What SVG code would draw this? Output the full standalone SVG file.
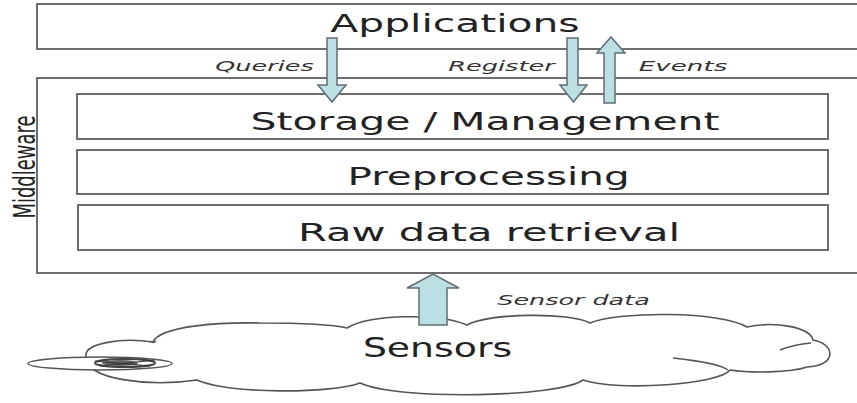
<svg xmlns="http://www.w3.org/2000/svg" width="857" height="403" viewBox="0 0 857 403">
<style>
.box{fill:#fff;stroke:#6e6e6e;stroke-width:2}
.big{font-family:"DejaVu Sans","Liberation Sans",sans-serif;font-size:24px;fill:#222;text-anchor:middle}
.lbl{font-family:"DejaVu Sans","Liberation Sans",sans-serif;font-size:14.5px;font-style:italic;fill:#333;text-anchor:middle}
.arr{fill:#bcdfe4;stroke:#5f6f72;stroke-width:1.5;stroke-linejoin:miter}
.cloud{fill:#fff;stroke:#555;stroke-width:1.6;stroke-linejoin:round}
</style>
<rect width="857" height="403" fill="#fff"/>
<g id="applications">
<rect class="box" x="37" y="4" width="830" height="45"/>
<text class="big" transform="translate(455,32) scale(1.64,1)" textLength="152" lengthAdjust="spacingAndGlyphs">Applications</text>
</g>
<g id="middleware">
<rect class="box" x="37" y="78" width="830" height="195"/>
<text class="big" transform="translate(35,167) scale(1.64,1) rotate(-90)" style="font-size:18px" textLength="103" lengthAdjust="spacingAndGlyphs">Middleware</text>
</g>
<g id="storage">
<rect class="box" x="77" y="94" width="751" height="45"/>
<text class="big" transform="translate(485,130) scale(1.64,1)" textLength="286" lengthAdjust="spacingAndGlyphs">Storage / Management</text>
</g>
<g id="preprocessing">
<rect class="box" x="77" y="150" width="751" height="44"/>
<text class="big" transform="translate(488.5,185) scale(1.64,1)" textLength="172" lengthAdjust="spacingAndGlyphs">Preprocessing</text>
</g>
<g id="raw">
<rect class="box" x="78" y="205" width="750" height="45"/>
<text class="big" transform="translate(489,241) scale(1.64,1)" textLength="233" lengthAdjust="spacingAndGlyphs">Raw data retrieval</text>
</g>
<g id="sensors">
<path class="cloud" d="M86,356 C84,344 120,337 153,342 C160,326 220,322 260,323 C300,323 330,324 347,328 C370,314 440,313 467,325 C490,313 570,312 590,323 C620,311 720,311 747,327 C775,321 810,327 813,340 C836,344 837,366 807,367 C790,373 750,373 730,370 C720,384 620,392 583,380 C560,397 400,401 360,383 C330,394 230,394 197,380 C150,387 84,380 86,356 Z"/>
<path fill="none" stroke="#555" stroke-width="1.5" d="M780,350 C790,346 800,344 811,343"/>
<path fill="none" stroke="#555" stroke-width="1.5" d="M673,358 C700,361 720,364 728,370"/>
<path fill="none" stroke="#555" stroke-width="1.5" d="M150,341 C152,343 154,343 156,341"/>
<ellipse cx="100" cy="363.5" rx="72" ry="6.5" fill="#fff" stroke="#555" stroke-width="1.5"/>
<ellipse cx="125" cy="363" rx="30" ry="4" fill="none" stroke="#444" stroke-width="2"/>
<ellipse cx="120" cy="363" rx="18" ry="3" fill="#666"/>
<path fill="none" stroke="#333" stroke-width="1.2" d="M95,361 L150,366 M100,366 L155,360"/>
<text class="big" transform="translate(437.5,357) scale(1.64,1)" style="font-size:27px" textLength="91" lengthAdjust="spacingAndGlyphs">Sensors</text>
</g>
<g id="connectors">
<path class="arr" d="M327,38 H337 V85 H346 L332,102 L318,85 H327 Z"/>
<path class="arr" d="M567,38 H578 V85 H587 L573.5,102 L560,85 H567 Z"/>
<path class="arr" d="M604,103 V53 H597 L611,37 L625,53 H615 V103 Z"/>
<path class="arr" d="M419,325 V288 H407 L433,274 L459,288 H447 V325 Z"/>
<text class="lbl" transform="translate(264.5,71) scale(1.64,1)" textLength="60" lengthAdjust="spacingAndGlyphs">Queries</text>
<text class="lbl" transform="translate(501.5,71) scale(1.64,1)" textLength="65" lengthAdjust="spacingAndGlyphs">Register</text>
<text class="lbl" transform="translate(683,71) scale(1.64,1)" textLength="54" lengthAdjust="spacingAndGlyphs">Events</text>
<text class="lbl" transform="translate(573.5,305) scale(1.64,1)" textLength="93" lengthAdjust="spacingAndGlyphs">Sensor data</text>
</g>
</svg>
